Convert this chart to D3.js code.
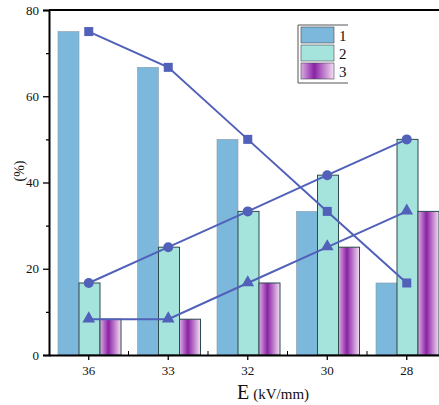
<!DOCTYPE html>
<html>
<head>
<meta charset="utf-8">
<script src="https://cdn.jsdelivr.net/npm/d3@7"></script>
<style>
  body { margin: 0; background: #fff; }
  svg text { font-family: "Liberation Serif", "Times New Roman", serif; fill: #111; }
</style>
</head>
<body>
<svg id="canvas"></svg>
<script>
var width = 439,
	height = 405;

// data
var fields = ["36", "33", "32", "30", "28"];
var series = ["1", "2", "3"];
var s1 = [75, 66.7, 50, 33.3, 16.7];
var s2 = [16.7, 25, 33.3, 41.7, 50];
var s3 = [8.3, 8.3, 16.7, 25, 33.3];
var yTicks = [0, 20, 40, 60, 80];

var values = [s1, s2, s3];
var fills = ["#7bb8dc", "#a5e4dc", "url(#mag)"];
var lineColor = "#5160b8";

var svg = d3.select("#canvas")
		.attr("width", width)
		.attr("height", height);

// gradient for series 3
var grad = svg.append("defs").append("linearGradient")
		.attr("id", "mag")
		.attr("x1", "0%").attr("x2", "100%");
grad.append("stop").attr("offset", "0%").attr("stop-color", "#dcaee4");
grad.append("stop").attr("offset", "40%").attr("stop-color", "#8a22a4");
grad.append("stop").attr("offset", "100%").attr("stop-color", "#f4def4");

var pLeft = 49, pTop = 10, pBottom = 355, pRight = 446.5;

var x = d3.scaleBand()
	.domain(fields)
	.range([pLeft, pRight]);

var xs = d3.scaleBand()
	.domain(series)
	.range([0, 63]);

var y = d3.scaleLinear()
	.domain([0, 80])
	.range([pBottom, pTop]);

// bars
series.forEach(function(s, i){
	svg.selectAll(".bar" + i)
		.data(values[i])
		.enter()
		.append("rect")
		.attr("x", function(d, j){ return x(fields[j]) + 9 + xs(s); })
		.attr("y", function(d){ return y(d); })
		.attr("width", xs.bandwidth())
		.attr("height", function(d){ return y(0) - y(d); })
		.attr("fill", fills[i])
		.attr("stroke", i == 0 ? "#8a9aa8" : "#2e4a4a")
		.attr("stroke-width", i == 0 ? 0.6 : 1);
});

// lines with markers at category centres
var cx = function(d, j){ return x(fields[j]) + x.bandwidth() / 2; };

var line = d3.line()
	.x(cx)
	.y(function(d){ return y(d); });

values.forEach(function(v){
	svg.append("path")
		.attr("d", line(v))
		.attr("fill", "none")
		.attr("stroke", lineColor)
		.attr("stroke-width", 2);
});

svg.selectAll(".sq")
	.data(s1)
	.enter()
	.append("rect")
	.attr("x", function(d, j){ return cx(d, j) - 4.5; })
	.attr("y", function(d){ return y(d) - 4.5; })
	.attr("width", 9)
	.attr("height", 9)
	.attr("fill", lineColor);

svg.selectAll(".ci")
	.data(s2)
	.enter()
	.append("circle")
	.attr("cx", cx)
	.attr("cy", function(d){ return y(d); })
	.attr("r", 5)
	.attr("fill", lineColor);

var tri = d3.symbol().type(d3.symbolTriangle).size(70);
svg.selectAll(".tr")
	.data(s3)
	.enter()
	.append("path")
	.attr("d", tri)
	.attr("transform", function(d, j){ return "translate(" + cx(d, j) + "," + (y(d) - 0.5) + ")"; })
	.attr("fill", lineColor);

// axes
var yAxis = svg.append("g")
	.attr("transform", "translate(" + pLeft + ",0)")
	.call(d3.axisLeft(y).tickValues(yTicks).tickSize(6).tickPadding(4));

svg.append("g")
	.attr("transform", "translate(" + pLeft + ",0)")
	.call(d3.axisLeft(y).tickValues([10, 30, 50, 70]).tickSize(3).tickFormat(""))
	.select(".domain").remove();

var xAxis = svg.append("g")
	.attr("transform", "translate(0," + pBottom + ")")
	.call(d3.axisBottom(x).tickSize(5).tickSizeOuter(0).tickPadding(6));

[yAxis, xAxis].forEach(function(a){
	a.attr("font-family", "Liberation Serif")
		.attr("font-size", 13);
	a.selectAll("text").style("font-size", "13px");
});

// minor x ticks pointing inward
svg.selectAll(".mx")
	.data(fields.slice(1))
	.enter()
	.append("line")
	.attr("x1", function(d){ return x(d); })
	.attr("x2", function(d){ return x(d); })
	.attr("y1", pBottom)
	.attr("y2", pBottom - 4)
	.attr("stroke", "#000");

svg.selectAll(".domain").attr("stroke-width", 2);
svg.selectAll(".tick line").attr("stroke-width", 1.3);

// top frame
svg.append("line")
	.attr("x1", pLeft).attr("x2", pRight)
	.attr("y1", pTop).attr("y2", pTop)
	.attr("stroke", "#000")
	.attr("stroke-width", 2);

// legend
var lg = svg.append("g");
lg.append("path")
	.attr("d", "M348,25 H298 V83 H348")
	.attr("fill", "none")
	.attr("stroke", "#555")
	.attr("stroke-width", 1);
series.forEach(function(s, i){
	lg.append("rect")
		.attr("x", 301)
		.attr("y", 27 + i * 18)
		.attr("width", 33)
		.attr("height", 16)
		.attr("fill", fills[i])
		.attr("stroke", "#445")
		.attr("stroke-width", 0.6);
	lg.append("text")
		.attr("x", 339)
		.attr("y", 41 + i * 18)
		.style("font-size", "15px")
		.text(s);
});

// axis titles
svg.append("text")
	.attr("transform", "translate(24,171) rotate(-90)")
	.attr("text-anchor", "middle")
	.style("font-size", "14px")
	.text("(%)");

var xt = svg.append("text")
	.attr("x", 237)
	.attr("y", 399);
xt.append("tspan").style("font-size", "20px").text("E");
xt.append("tspan").style("font-size", "15px").attr("dx", 4).text("(kV/mm)");
</script>
</body>
</html>
